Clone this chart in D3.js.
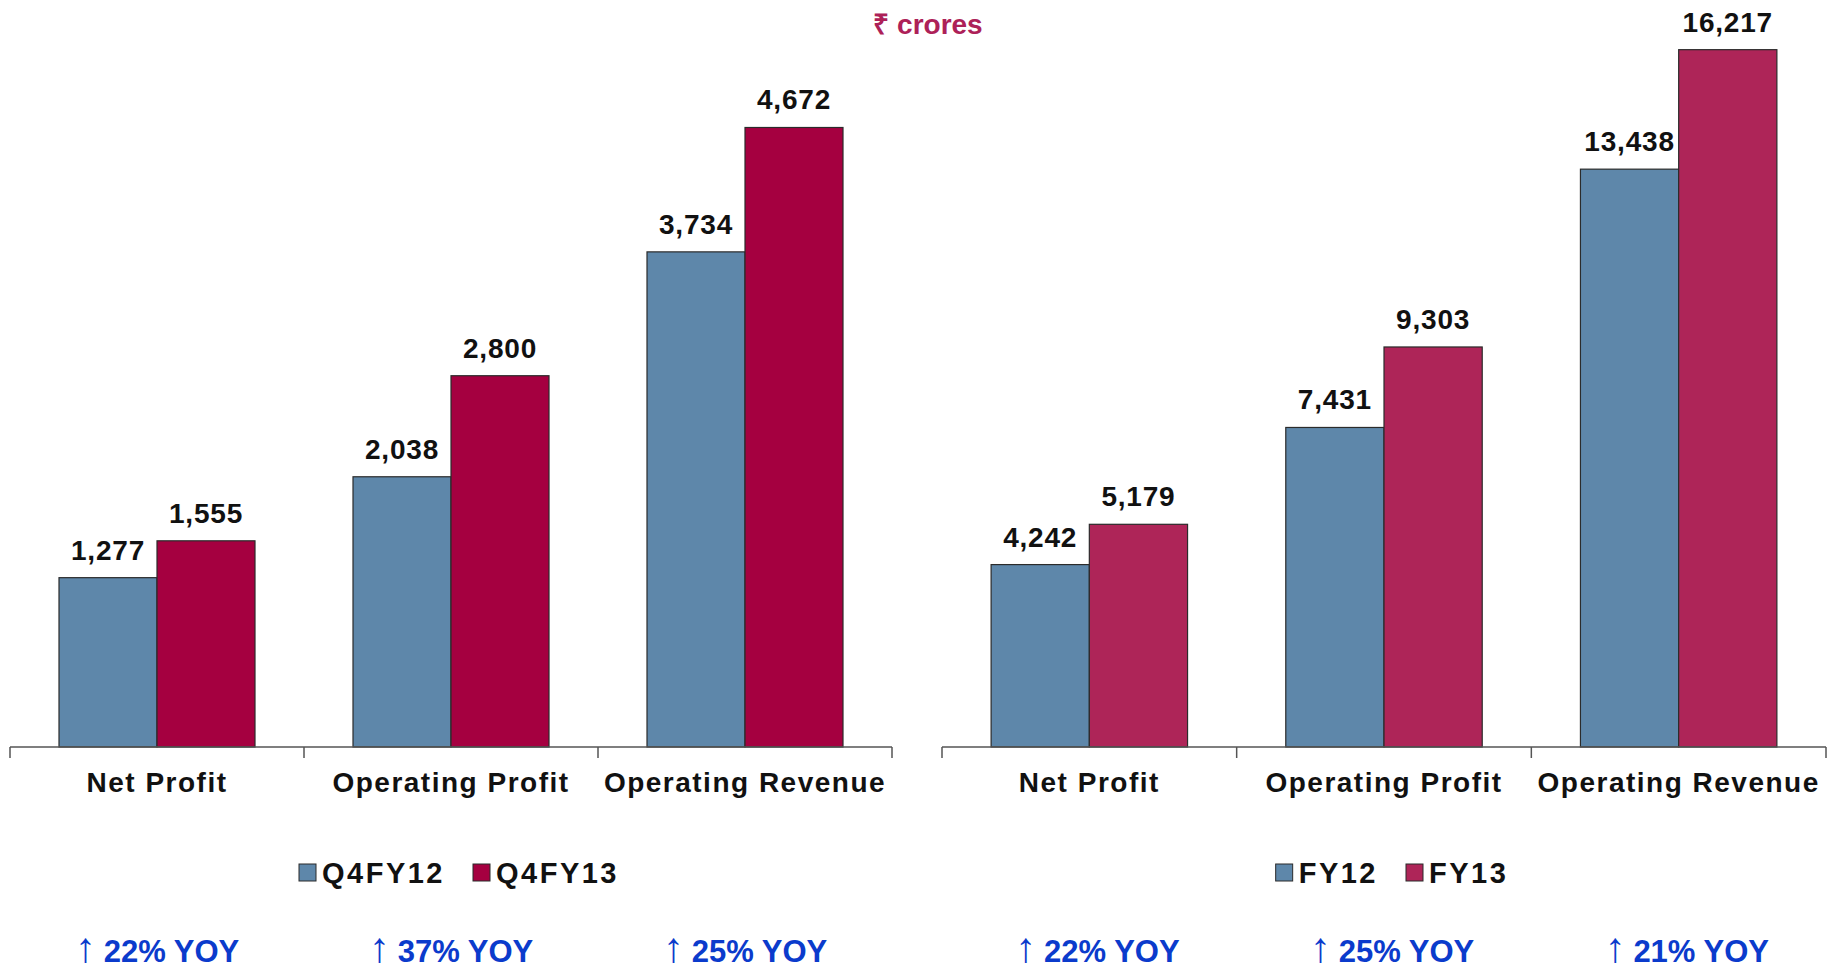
<!DOCTYPE html>
<html>
<head>
<meta charset="utf-8">
<script src="https://cdn.jsdelivr.net/npm/d3@7"></script>
<style>
  body { margin: 0; background: #fff; }
  svg text { font-family: "Liberation Sans", Arial, sans-serif; }
</style>
</head>
<body>
<div id="chart"></div>
<script>
// Data
const categories = ["Net Profit", "Operating Profit", "Operating Revenue"];

const quarterSeries = ["Q4FY12", "Q4FY13"];
const quarterFY12 = [1277, 2038, 3734];
const quarterFY13 = [1555, 2800, 4672];
const quarterYoy = ["22% YOY", "37% YOY", "25% YOY"];

const yearSeries = ["FY12", "FY13"];
const yearFY12 = [4242, 7431, 13438];
const yearFY13 = [5179, 9303, 16217];
const yearYoy = ["22% YOY", "25% YOY", "21% YOY"];

const unitLabel = "₹ crores";

let width = 1833;
let height = 972;

let svg = d3.select("#chart")
  .append("svg")
  .attr("width", width)
  .attr("height", height);

// Title
svg.append("text")
  .attr("x", 928)
  .attr("y", 34)
  .attr("text-anchor", "middle")
  .style("font-size", "28px")
  .style("font-weight", 700)
  .style("fill", "#ad2158")
  .text(unitLabel);

let baseY = 747;
let fmt = d3.format(",");

function drawPanel(cfg) {
  let x0 = d3.scaleBand()
    .domain(categories)
    .range([cfg.left, cfg.right]);

  let x1 = d3.scaleBand()
    .domain(cfg.series)
    .range([x0.bandwidth() / 6, x0.bandwidth() * 5 / 6]);

  let y = d3.scaleLinear()
    .domain([0, cfg.max])
    .range([baseY, baseY - cfg.max * cfg.pxPerUnit]);

  let color = d3.scaleOrdinal()
    .domain(cfg.series)
    .range(cfg.colors);

  let rows = categories.map((c, i) => ({
    cat: c,
    vals: cfg.series.map((s, j) => ({ s: s, v: cfg.values[j][i] }))
  }));

  let g = svg.append("g");

  let groups = g.selectAll("g.grp")
    .data(rows)
    .join("g")
    .attr("class", "grp")
    .attr("transform", d => "translate(" + x0(d.cat) + ",0)");

  groups.selectAll("rect")
    .data(d => d.vals)
    .join("rect")
    .attr("x", d => x1(d.s))
    .attr("y", d => y(d.v))
    .attr("width", x1.bandwidth())
    .attr("height", d => baseY - y(d.v))
    .style("fill", d => color(d.s))
    .style("stroke", "#2b2b2b")
    .style("stroke-width", 1.2);

  groups.selectAll("text.val")
    .data(d => d.vals)
    .join("text")
    .attr("class", "val")
    .attr("x", d => x1(d.s) + x1.bandwidth() / 2)
    .attr("y", d => y(d.v) - 18)
    .attr("text-anchor", "middle")
    .style("font-size", "28px")
    .style("font-weight", 700)
    .style("letter-spacing", "0.8px")
    .style("fill", "#111")
    .text(d => fmt(d.v));

  // Axis
  let axis = d3.axisBottom(x0).tickSize(0).tickPadding(0).tickFormat("");
  let ag = g.append("g")
    .attr("transform", "translate(0," + baseY + ")")
    .call(axis);
  ag.select(".domain").remove();
  ag.append("line")
    .attr("x1", cfg.left).attr("x2", cfg.right)
    .style("stroke", "#555").style("stroke-width", 1.5);
  let bounds = categories.map(c => x0(c)).concat([cfg.right]);
  ag.selectAll("line.sep")
    .data(bounds)
    .join("line")
    .attr("class", "sep")
    .attr("x1", d => d).attr("x2", d => d)
    .attr("y1", 0).attr("y2", 11)
    .style("stroke", "#555").style("stroke-width", 1.5);

  g.selectAll("text.cat")
    .data(categories)
    .join("text")
    .attr("class", "cat")
    .attr("x", d => x0(d) + x0.bandwidth() / 2)
    .attr("y", 792)
    .attr("text-anchor", "middle")
    .style("font-size", "28px")
    .style("font-weight", 700)
    .style("letter-spacing", "1.5px")
    .style("fill", "#111")
    .text(d => d);

  // Legend
  let lg = g.append("g");
  let items = lg.selectAll("g")
    .data(cfg.series)
    .join("g");
  items.append("rect")
    .attr("width", 17).attr("height", 17)
    .attr("y", 864)
    .style("fill", d => color(d))
    .style("stroke", "#2b2b2b")
    .style("stroke-width", 1);
  items.append("text")
    .attr("x", 23)
    .attr("y", 883)
    .style("font-size", "29px")
    .style("font-weight", 700)
    .style("letter-spacing", "2.5px")
    .style("fill", "#111")
    .text(d => d);
  let xpos = 0;
  items.each(function () {
    let w = d3.select(this).select("text").node().getComputedTextLength() + 23;
    d3.select(this).attr("transform", "translate(" + xpos + ",0)");
    xpos += w + 28;
  });
  let legendW = xpos - 28;
  lg.attr("transform", "translate(" + ((cfg.left + cfg.right) / 2 - legendW / 2 + 8) + ",0)");

  // YOY notes
  let notes = g.selectAll("text.yoy")
    .data(cfg.yoy)
    .join("text")
    .attr("class", "yoy")
    .attr("x", (d, i) => x0(categories[i]) + x0.bandwidth() / 2 + cfg.yoyShift)
    .attr("y", 962)
    .attr("text-anchor", "middle")
    .style("fill", "#0b3bcc");
  notes.append("tspan")
    .style("font-size", "42px")
    .style("font-weight", 400)
    .text("↑");
  notes.append("tspan")
    .attr("dx", 8)
    .style("font-size", "31px")
    .style("font-weight", 700)
    .text(d => d);
}

drawPanel({
  left: 10, right: 892,
  series: quarterSeries,
  values: [quarterFY12, quarterFY13],
  max: 5000, pxPerUnit: 0.1326,
  colors: ["#5e87aa", "#a50040"],
  yoy: quarterYoy,
  yoyShift: 0
});

drawPanel({
  left: 942, right: 1826,
  series: yearSeries,
  values: [yearFY12, yearFY13],
  max: 17000, pxPerUnit: 0.04300,
  colors: ["#5e87aa", "#ae2558"],
  yoy: yearYoy,
  yoyShift: 8
});
</script>
</body>
</html>
